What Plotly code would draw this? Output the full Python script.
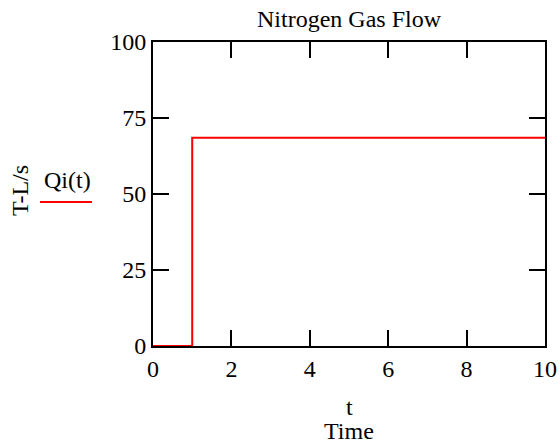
import plotly.graph_objects as go

# Data
t_vals = [0, 1, 1, 10]
q_vals = [0, 0, 68.5, 68.5]
x_ticks = [0, 2, 4, 6, 8, 10]
y_ticks = [0, 25, 50, 75, 100]

FONT = "Liberation Serif"
W, H = 560, 443
L, R, T, B = 153, 15, 42, 97
PW = W - L - R
PH = H - T - B

fig = go.Figure()
fig.add_trace(go.Scatter(x=t_vals, y=q_vals, mode="lines",
                         line=dict(color="#ff0000", width=2),
                         name="Qi(t)", showlegend=False, cliponaxis=False))

axis_common = dict(showgrid=False, zeroline=False, showline=True, linecolor="black",
                   linewidth=2, mirror="ticks", ticks="inside", ticklen=16,
                   tickwidth=1.5, tickcolor="black", automargin=False,
                   tickfont=dict(family=FONT, size=24, color="black"))

fig.update_xaxes(range=[0, 10], tickvals=x_ticks, **axis_common)
fig.update_yaxes(range=[0, 100], tickvals=y_ticks, **axis_common)

def px_x(p):
    return (p - L) / PW

def px_y(p):
    return 1 - (p - T) / PH

def ann(text, x, y, **kw):
    d = dict(text=text, x=px_x(x), y=px_y(y), xref="paper", yref="paper",
             showarrow=False, xanchor="center", yanchor="middle",
             font=dict(family=FONT, size=24, color="black"))
    d.update(kw)
    return d

anns = [
    ann("Nitrogen Gas Flow", 349, 19),
    ann("t", 349, 407),
    ann("Time", 349, 431),
    ann("T-L/s", 20, 191, textangle=-90),
    ann("Qi(t)", 67, 180),
]
fig.update_layout(annotations=anns)
fig.add_shape(type="line", xref="paper", yref="paper",
              x0=px_x(40), x1=px_x(92), y0=px_y(202), y1=px_y(202),
              line=dict(color="#ff0000", width=2))

fig.update_layout(width=W, height=H, margin=dict(l=L, r=R, t=T, b=B),
                  plot_bgcolor="white", paper_bgcolor="white", showlegend=False)

fig.write_html("out.html")
